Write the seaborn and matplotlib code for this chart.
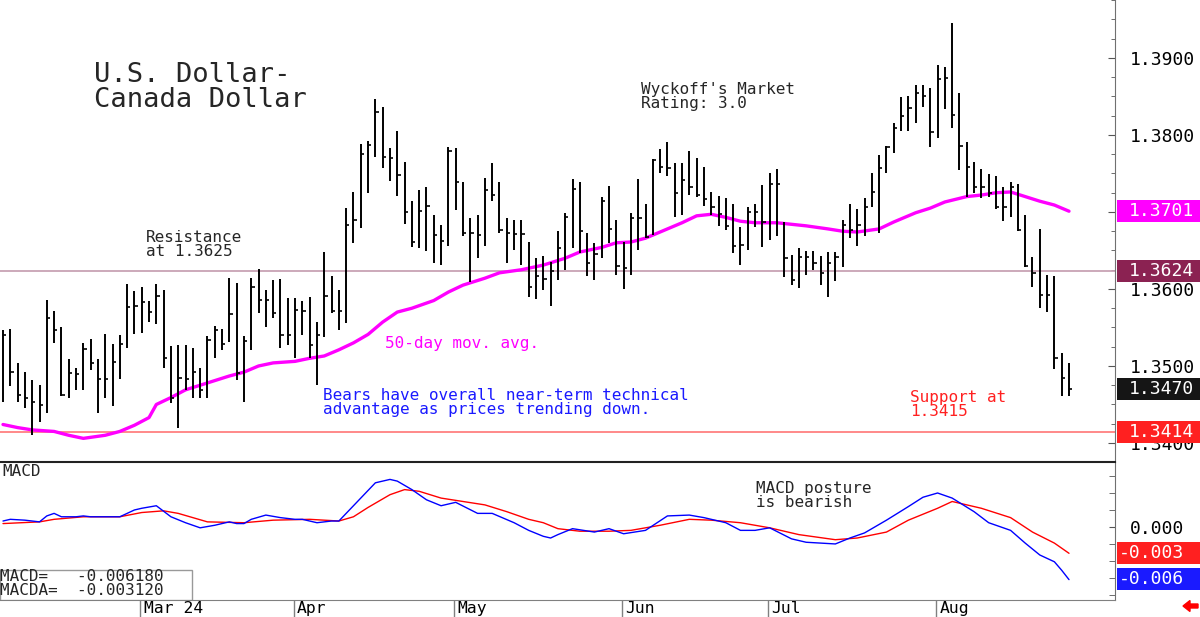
import numpy as np
import pandas as pd
import matplotlib
matplotlib.use("Agg")
import matplotlib.pyplot as plt
import seaborn as sns
from matplotlib.patches import Rectangle, FancyArrow
from matplotlib.ticker import MultipleLocator, FixedLocator
from matplotlib.transforms import blended_transform_factory

# daily USD/CAD bars, weekdays from 2024-02-05 to 2024-08-27
highs = [1.3547, 1.3548, 1.3504, 1.3492, 1.3482, 1.3475, 1.3586, 1.3571, 1.3550, 1.3509,
         1.3498, 1.3530, 1.3535, 1.3509, 1.3541, 1.3528, 1.3540, 1.3606, 1.3597, 1.3602,
         1.3584, 1.3606, 1.3599, 1.3526, 1.3527, 1.3527, 1.3523, 1.3498, 1.3539, 1.3552,
         1.3548, 1.3614, 1.3608, 1.3539, 1.3614, 1.3626, 1.3599, 1.3612, 1.3613, 1.3588,
         1.3588, 1.3584, 1.3589, 1.3557, 1.3648, 1.3617, 1.3599, 1.3705, 1.3726, 1.3788,
         1.3792, 1.3847, 1.3836, 1.3783, 1.3805, 1.3765, 1.3714, 1.3729, 1.3732, 1.3696,
         1.3683, 1.3784, 1.3783, 1.3739, 1.3692, 1.3696, 1.3744, 1.3764, 1.3739, 1.3692,
         1.3690, 1.3690, 1.3661, 1.3640, 1.3643, 1.3635, 1.3675, 1.3699, 1.3743, 1.3739,
         1.3673, 1.3660, 1.3719, 1.3734, 1.3690, 1.3661, 1.3699, 1.3743, 1.3710, 1.3769,
         1.3782, 1.3791, 1.3764, 1.3764, 1.3779, 1.3770, 1.3758, 1.3726, 1.3721, 1.3718,
         1.3710, 1.3680, 1.3706, 1.3710, 1.3735, 1.3751, 1.3756, 1.3687, 1.3644, 1.3653,
         1.3649, 1.3649, 1.3643, 1.3648, 1.3648, 1.3690, 1.3710, 1.3704, 1.3718, 1.3751,
         1.3774, 1.3786, 1.3816, 1.3849, 1.3851, 1.3865, 1.3865, 1.3861, 1.3891, 1.3888,
         1.3946, 1.3855, 1.3791, 1.3765, 1.3756, 1.3749, 1.3747, 1.3732, 1.3739, 1.3736,
         1.3696, 1.3641, 1.3678, 1.3618, 1.3617, 1.3517, 1.3504]
lows = [1.3453, 1.3474, 1.3453, 1.3446, 1.3410, 1.3427, 1.3439, 1.3530, 1.3461, 1.3459,
        1.3469, 1.3469, 1.3495, 1.3439, 1.3459, 1.3448, 1.3483, 1.3523, 1.3541, 1.3543,
        1.3557, 1.3554, 1.3497, 1.3452, 1.3419, 1.3469, 1.3458, 1.3458, 1.3459, 1.3510,
        1.3521, 1.3531, 1.3482, 1.3453, 1.3521, 1.3569, 1.3550, 1.3562, 1.3524, 1.3527,
        1.3511, 1.3540, 1.3511, 1.3475, 1.3537, 1.3569, 1.3547, 1.3556, 1.3660, 1.3679,
        1.3725, 1.3771, 1.3757, 1.3740, 1.3721, 1.3684, 1.3654, 1.3653, 1.3649, 1.3634,
        1.3631, 1.3656, 1.3703, 1.3669, 1.3609, 1.3640, 1.3656, 1.3714, 1.3673, 1.3634,
        1.3651, 1.3631, 1.3589, 1.3587, 1.3599, 1.3578, 1.3612, 1.3625, 1.3653, 1.3647,
        1.3617, 1.3612, 1.3640, 1.3660, 1.3618, 1.3600, 1.3618, 1.3651, 1.3666, 1.3670,
        1.3751, 1.3747, 1.3693, 1.3696, 1.3722, 1.3719, 1.3708, 1.3696, 1.3682, 1.3677,
        1.3647, 1.3631, 1.3651, 1.3680, 1.3654, 1.3664, 1.3669, 1.3615, 1.3605, 1.3601,
        1.3618, 1.3625, 1.3605, 1.3589, 1.3610, 1.3628, 1.3666, 1.3656, 1.3669, 1.3706,
        1.3673, 1.3751, 1.3777, 1.3805, 1.3805, 1.3816, 1.3836, 1.3784, 1.3796, 1.3834,
        1.3809, 1.3755, 1.3719, 1.3725, 1.3718, 1.3719, 1.3704, 1.3688, 1.3693, 1.3675,
        1.3628, 1.3602, 1.3575, 1.3570, 1.3496, 1.3461, 1.3461]
closes = [1.3540, 1.3492, 1.3462, 1.3459, 1.3453, 1.3449, 1.3562, 1.3547, 1.3462, 1.3491,
          1.3489, 1.3522, 1.3504, 1.3483, 1.3483, 1.3505, 1.3528, 1.3576, 1.3578, 1.3583,
          1.3570, 1.3591, 1.3511, 1.3459, 1.3484, 1.3483, 1.3492, 1.3469, 1.3534, 1.3547,
          1.3528, 1.3567, 1.3491, 1.3532, 1.3602, 1.3586, 1.3586, 1.3569, 1.3540, 1.3540,
          1.3573, 1.3571, 1.3527, 1.3540, 1.3591, 1.3571, 1.3571, 1.3683, 1.3690, 1.3775,
          1.3787, 1.3830, 1.3771, 1.3770, 1.3748, 1.3700, 1.3661, 1.3701, 1.3708, 1.3670,
          1.3662, 1.3779, 1.3739, 1.3673, 1.3673, 1.3670, 1.3729, 1.3722, 1.3677, 1.3673,
          1.3671, 1.3671, 1.3602, 1.3617, 1.3613, 1.3623, 1.3653, 1.3693, 1.3730, 1.3675,
          1.3634, 1.3645, 1.3714, 1.3678, 1.3630, 1.3627, 1.3692, 1.3692, 1.3667, 1.3768,
          1.3758, 1.3757, 1.3725, 1.3742, 1.3732, 1.3722, 1.3717, 1.3706, 1.3697, 1.3682,
          1.3656, 1.3657, 1.3700, 1.3700, 1.3687, 1.3736, 1.3736, 1.3640, 1.3612, 1.3641,
          1.3641, 1.3634, 1.3621, 1.3634, 1.3641, 1.3683, 1.3677, 1.3683, 1.3706, 1.3726,
          1.3757, 1.3784, 1.3809, 1.3825, 1.3835, 1.3855, 1.3851, 1.3804, 1.3873, 1.3874,
          1.3826, 1.3786, 1.3758, 1.3732, 1.3732, 1.3725, 1.3706, 1.3706, 1.3732, 1.3677,
          1.3630, 1.3621, 1.3592, 1.3592, 1.3511, 1.3485, 1.3470]

# 50-day moving average (bar number, value)
ma_bar = [0, 2, 4, 7, 9, 11, 14, 16, 18, 20, 21, 23, 25, 28, 31, 33, 35, 37, 40, 42,
          44, 46, 48, 50, 52, 54, 56, 59, 61, 63, 66, 68, 71, 74, 77, 79, 82, 84, 86, 88,
          90, 93, 95, 97, 99, 101, 103, 106, 108, 110, 113, 115, 117, 120, 122, 125, 127,
          129, 132, 134, 136, 138, 140, 142, 144, 146]
ma_val = [1.3424, 1.3420, 1.3417, 1.3415, 1.3410, 1.3406, 1.3410, 1.3415, 1.3423, 1.3433,
          1.3450, 1.3459, 1.3469, 1.3478, 1.3487, 1.3492, 1.3500, 1.3504, 1.3506, 1.3510,
          1.3513, 1.3521, 1.3530, 1.3541, 1.3557, 1.3570, 1.3575, 1.3585, 1.3596, 1.3605,
          1.3614, 1.3621, 1.3625, 1.3631, 1.3640, 1.3648, 1.3654, 1.3660, 1.3661, 1.3666,
          1.3674, 1.3686, 1.3695, 1.3697, 1.3693, 1.3688, 1.3686, 1.3686, 1.3684, 1.3682,
          1.3678, 1.3675, 1.3674, 1.3678, 1.3687, 1.3699, 1.3705, 1.3713, 1.3720, 1.3722,
          1.3725, 1.3726, 1.3720, 1.3714, 1.3709, 1.3701]

# MACD (blue)
macd_bar = [0, 1, 3, 5, 6, 7, 8, 10, 11, 12, 16, 18, 19, 21, 23, 25, 27, 29, 31, 32,
            33, 34, 36, 38, 40, 41, 43, 45, 46, 47, 49, 51, 53, 54, 56, 58, 60, 62, 65, 67,
            70, 72, 74, 75, 76, 78, 81, 83, 85, 88, 91, 94, 96, 99, 101, 103, 105, 108, 110,
            114, 116, 118, 121, 124, 126, 128, 130, 133, 135, 138, 140, 142, 144, 145, 146]
macd = [0.0007, 0.0009, 0.0008, 0.0006, 0.0013, 0.0016, 0.0012, 0.0012, 0.0013, 0.0012,
        0.0012, 0.0020, 0.0022, 0.0025, 0.0012, 0.0005, -0.0001, 0.0002, 0.0006, 0.0004,
        0.0004, 0.0009, 0.0014, 0.0011, 0.0009, 0.0009, 0.0005, 0.0007, 0.0007, 0.0016,
        0.0034, 0.0052, 0.0056, 0.0054, 0.0044, 0.0032, 0.0025, 0.0029, 0.0016, 0.0016,
        0.0005, -0.0004, -0.0011, -0.0013, -0.0009, -0.0002, -0.0006, -0.0002, -0.0008, -0.0004,
        0.0013, 0.0014, 0.0011, 0.0005, -0.0004, -0.0004, -0.0001, -0.0014, -0.0018,
        -0.0020, -0.0013, -0.0007, 0.0008, 0.0024, 0.0035, 0.0040, 0.0034, 0.0018, 0.0005,
        -0.0004, -0.0019, -0.0033, -0.0041, -0.0051, -0.0062]

# MACDA (red)
macda_bar = [0, 5, 7, 11, 16, 19, 22, 24, 28, 33, 37, 42, 46, 48, 50, 53, 55, 57, 60, 66,
             69, 72, 74, 76, 79, 83, 86, 90, 94, 97, 101, 105, 109, 114, 117, 121, 124, 128,
             130, 134, 138, 141, 144, 146]
macda = [0.0004, 0.0006, 0.0009, 0.0012, 0.0012, 0.0017, 0.0019, 0.0016, 0.0006, 0.0005,
         0.0008, 0.0009, 0.0007, 0.0012, 0.0023, 0.0038, 0.0044, 0.0042, 0.0034, 0.0026,
         0.0018, 0.0009, 0.0005, -0.0002, -0.0005, -0.0005, -0.0004, 0.0002, 0.0009, 0.0008,
         0.0005, -0.0001, -0.0009, -0.0015, -0.0013, -0.0006, 0.0008, 0.0022, 0.0030, 0.0022,
         0.0011, -0.0006, -0.0019, -0.0031]

month_bar = [19, 40, 62, 85, 105, 128]
month_lab = ['Mar 24', 'Apr', 'May', 'Jun', 'Jul', 'Aug']

resistance = 1.3624
support = 1.3414
last_ma = 1.3701
last_close = 1.3470
macd_last = -0.006180
macda_last = -0.003120

dates = pd.bdate_range('2024-02-05', periods=len(closes))
x = np.arange(len(dates))

sns.set_style('white')
plt.rcParams['font.family'] = ['DejaVu Sans Mono', 'DejaVu Sans']

W, H = 1200, 617
fig = plt.figure(figsize=(12, 6.17), dpi=100)
ax = fig.add_axes([0, 1 - 462 / H, 1115 / W, 462 / H])
ax2 = fig.add_axes([0, 1 - 600 / H, 1115 / W, 138 / H])

# ---- price panel
ax.axhline(resistance, color='#c8a2b4', lw=1.3, zorder=1)
ax.axhline(support, color='#ff8080', lw=1.3, zorder=1)
ax.vlines(x, lows, highs, color='black', lw=1.4, zorder=3)
ax.hlines(closes, x, x + 0.45, color='black', lw=1.2, zorder=3)
sns.lineplot(x=ma_bar, y=ma_val, ax=ax, color='#ff00ff', linewidth=2.4, zorder=2, legend=False)

ax.set_xlim(-0.41, 152.3)
ax.set_ylim(1.33753, 1.39753)
for s in ['left', 'top', 'bottom']:
    ax.spines[s].set_visible(False)
ax.spines['right'].set_color('#707070')
ax.set_xticks([])
ax.yaxis.tick_right()
ax.yaxis.set_major_locator(FixedLocator([1.34, 1.35, 1.36, 1.37, 1.38, 1.39]))
ax.yaxis.set_minor_locator(MultipleLocator(0.0025))
# 1.3700 sits under the moving-average box, so it has no visible label
ax.yaxis.set_major_formatter(plt.FuncFormatter(
    lambda v, p: '' if abs(v - 1.37) < 1e-6 else f'{v:.4f}'))
ax.tick_params(axis='y', which='both', direction='in', colors='#555555', labelcolor='black',
               labelsize=13, pad=11)
ax.tick_params(axis='y', which='major', length=5)
ax.tick_params(axis='y', which='minor', length=3)
ax.set_xlabel('')
ax.set_ylabel('')

# ---- MACD panel
sns.lineplot(x=macda_bar, y=macda, ax=ax2, color='#ff0000', linewidth=1.0, legend=False)
sns.lineplot(x=macd_bar, y=macd, ax=ax2, color='#0000ff', linewidth=1.0, legend=False)
ax2.set_xlim(-0.41, 152.3)
ax2.set_ylim(-0.0086, 0.00765)
ax2.spines['left'].set_visible(False)
ax2.spines['top'].set_color('#222222')
ax2.spines['top'].set_linewidth(1.5)
ax2.spines['bottom'].set_color('#808080')
ax2.spines['right'].set_color('#707070')
ax2.yaxis.tick_right()
ax2.yaxis.set_major_locator(FixedLocator([0.0]))
ax2.yaxis.set_minor_locator(MultipleLocator(0.002))
ax2.yaxis.set_major_formatter(plt.FuncFormatter(lambda v, p: '0.000'))
ax2.tick_params(axis='y', which='both', direction='in', colors='#555555', labelcolor='black',
                labelsize=13, pad=11, length=4)
ax2.set_xticks([m - 0.2 for m in month_bar])
ax2.set_xticklabels([])
ax2.tick_params(axis='x', direction='out', length=13, width=1, colors='#808080', bottom=True)
ax2.set_xlabel('')
ax2.set_ylabel('')
tb = blended_transform_factory(ax2.transData, ax2.transAxes)
for m, lab in zip(month_bar, month_lab):
    ax2.text(m + 0.25, -0.005, lab, transform=tb, va='top', ha='left', fontsize=11.8,
             color='black', clip_on=False)

# ---- value boxes on the right axis
def value_box(axis, val, label, color, unit_px, tx):
    tr = blended_transform_factory(fig.transFigure, axis.transData)
    h = 22 / unit_px
    fig.add_artist(Rectangle((1117 / W, val - h / 2), 83 / W, h, transform=tr,
                             facecolor=color, edgecolor='none', zorder=5))
    fig.text(tx / W, val, label, transform=tr, color='white', va='center', ha='left',
             fontsize=13, zorder=6)

value_box(ax, last_ma, f'{last_ma:.4f}', '#ff00ff', 7700, 1129)
value_box(ax, resistance, f'{resistance:.4f}', '#8b2252', 7700, 1129)
value_box(ax, last_close, f'{last_close:.4f}', '#151515', 7700, 1129)
value_box(ax, support, f'{support:.4f}', '#ff2020', 7700, 1129)
value_box(ax2, macda_last, f'{macda_last:.3f}', '#ff2020', 8500, 1119)
value_box(ax2, macd_last, f'{macd_last:.3f}', '#1a1aff', 8500, 1119)

# ---- annotations
def ftext(px, py, s, **kw):
    fig.text(px / W, 1 - py / H, s, va='top', ha='left', **kw)

ftext(94, 62, 'U.S. Dollar-\nCanada Dollar', fontsize=19.5, linespacing=0.95)
ftext(641, 82, "Wyckoff's Market\nRating: 3.0", fontsize=11.5, linespacing=0.95)
ftext(146, 230, 'Resistance\nat 1.3625', fontsize=11.5, linespacing=0.95)
ftext(385, 336, '50-day mov. avg.', fontsize=11.5, color='#ff00ff')
ftext(323, 388, 'Bears have overall near-term technical\nadvantage as prices trending down.',
      fontsize=11.5, color='#1a1aff', linespacing=0.95)
ftext(910, 390, 'Support at\n1.3415', fontsize=11.5, color='#ff2020', linespacing=0.95)
ftext(2, 464, 'MACD', fontsize=11.5)
ftext(756, 481, 'MACD posture\nis bearish', fontsize=11.5, linespacing=0.95)

ax2.add_patch(Rectangle((0, 0), 192 / 1115, 30 / 138, transform=ax2.transAxes,
                        facecolor='white', edgecolor='#999999', lw=1, zorder=4))
ftext(0, 569, f'MACD=   {macd_last:.6f}\nMACDA=  {macda_last:.6f}', fontsize=11.5,
      linespacing=0.9, zorder=7)

fig.add_artist(FancyArrow(1198 / W, 11 / H, -15 / W, 0, width=4 / H, head_width=11 / H,
                          head_length=7 / W, length_includes_head=True,
                          transform=fig.transFigure, color='#ff0000'))

fig.savefig('out.png', dpi=100)
